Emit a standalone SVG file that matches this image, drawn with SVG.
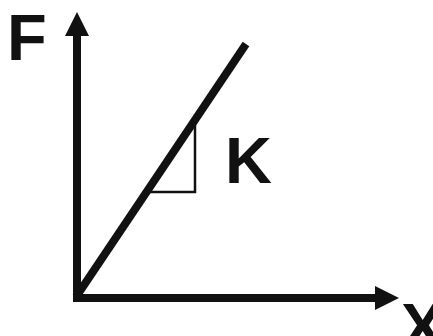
<svg xmlns="http://www.w3.org/2000/svg" width="433" height="336" viewBox="0 0 433 336">
<style>
.lbl{font-family:"Liberation Sans",Arial,sans-serif;font-weight:bold;font-size:65px;fill:#111}
.ax{stroke:#111;stroke-width:8;fill:none}
</style>
<rect width="433" height="336" fill="#fff"/>
<g id="connectors">
<line class="ax" x1="77" y1="30" x2="77" y2="302"/>
<polygon points="77,12 65,36 89,36" fill="#111"/>
<line class="ax" x1="73" y1="298" x2="380" y2="298"/>
<polygon points="399,298 375,286 375,310" fill="#111"/>
<line class="ax" x1="76" y1="297" x2="246" y2="44"/>
<polyline points="195,118 195,192 148,192" fill="none" stroke="#111" stroke-width="2.5"/>
</g>
<g id="F"><text class="lbl" x="7" y="60">F</text></g>
<g id="K"><text class="lbl" x="225" y="183">K</text></g>
<g id="X"><text class="lbl" x="401" y="349">X</text></g>
</svg>
